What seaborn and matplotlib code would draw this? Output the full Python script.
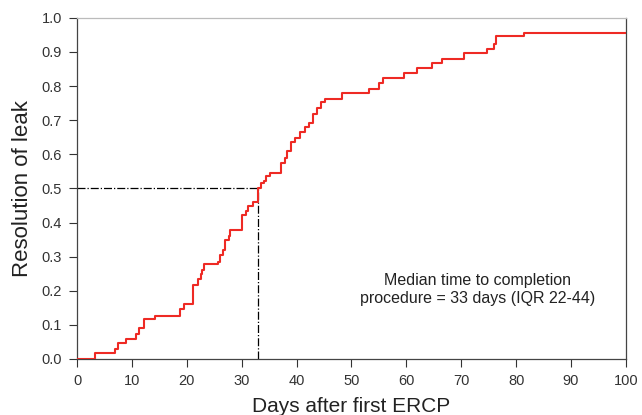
import matplotlib
matplotlib.use('Agg')
import matplotlib.pyplot as plt
import seaborn as sns
import pandas as pd

# step times (days) and cumulative proportion with resolved leak
days = [0, 3.3, 7.0, 7.4, 9.0, 10.7, 11.2, 12.2, 14.2, 18.8, 19.5, 21.1, 22.1,
        22.5, 22.8, 23.2, 25.6, 26.0, 26.5, 27.0, 27.6, 27.9, 30.1, 30.7, 31.2,
        32.0, 33.0, 33.5, 34.0, 34.4, 35.2, 37.2, 37.9, 38.3, 39.0, 39.7, 40.7,
        41.6, 42.3, 43.0, 43.8, 44.4, 45.2, 48.2, 53.1, 55.0, 55.7, 59.6, 61.9,
        64.7, 66.4, 70.5, 74.6, 76.0, 76.3, 81.5, 100]
resolved = [0, 0.017, 0.030, 0.046, 0.058, 0.072, 0.090, 0.117, 0.127, 0.146,
            0.161, 0.216, 0.234, 0.248, 0.261, 0.278, 0.285, 0.305, 0.318,
            0.349, 0.360, 0.378, 0.422, 0.434, 0.447, 0.460, 0.500, 0.515,
            0.523, 0.535, 0.546, 0.574, 0.590, 0.610, 0.637, 0.647, 0.664,
            0.681, 0.693, 0.718, 0.735, 0.752, 0.762, 0.781, 0.792, 0.808,
            0.825, 0.837, 0.852, 0.869, 0.880, 0.898, 0.908, 0.924, 0.947,
            0.956, 0.956]

median_days = 33
median_level = 0.5
note = "Median time to completion\nprocedure = 33 days (IQR 22-44)"

sns.set_style("ticks")
plt.rcParams['font.family'] = ['Liberation Sans', 'DejaVu Sans']

df = pd.DataFrame({'days': days, 'resolved': resolved})

fig = plt.figure(figsize=(6.42, 4.15), dpi=100)
ax = fig.add_axes([0.12, 0.135, 0.855, 0.822])

sns.lineplot(data=df, x='days', y='resolved', drawstyle='steps-post',
             color='#ee2a24', linewidth=1.5, ax=ax, zorder=3)

ax.plot([0, median_days], [median_level, median_level], color='black',
        linestyle='-.', linewidth=0.9, zorder=2)
ax.plot([median_days, median_days], [0, median_level], color='black',
        linestyle='-.', linewidth=0.9, zorder=2)

ax.text(73.0, 0.205, note, ha='center', va='center', fontsize=11.5,
        color='#222222', linespacing=1.25)

ax.set_xlim(0, 100)
ax.set_ylim(0, 1.0)
ax.set_xticks(range(0, 101, 10))
ax.set_yticks([i / 10 for i in range(11)])
ax.set_yticklabels([f"{i / 10:.1f}" for i in range(11)])
ax.set_xlabel("Days after first ERCP", fontsize=15, color='#222222', labelpad=6)
ax.set_ylabel("Resolution of leak", fontsize=16, color='#222222', labelpad=6)
ax.tick_params(labelsize=10.5, length=6, width=0.8, pad=5, colors='#333333')
for s in ax.spines.values():
    s.set_linewidth(0.9)
    s.set_color('#444444')
ax.spines['top'].set_color('#bbbbbb')

fig.savefig('out.png', dpi=100)
